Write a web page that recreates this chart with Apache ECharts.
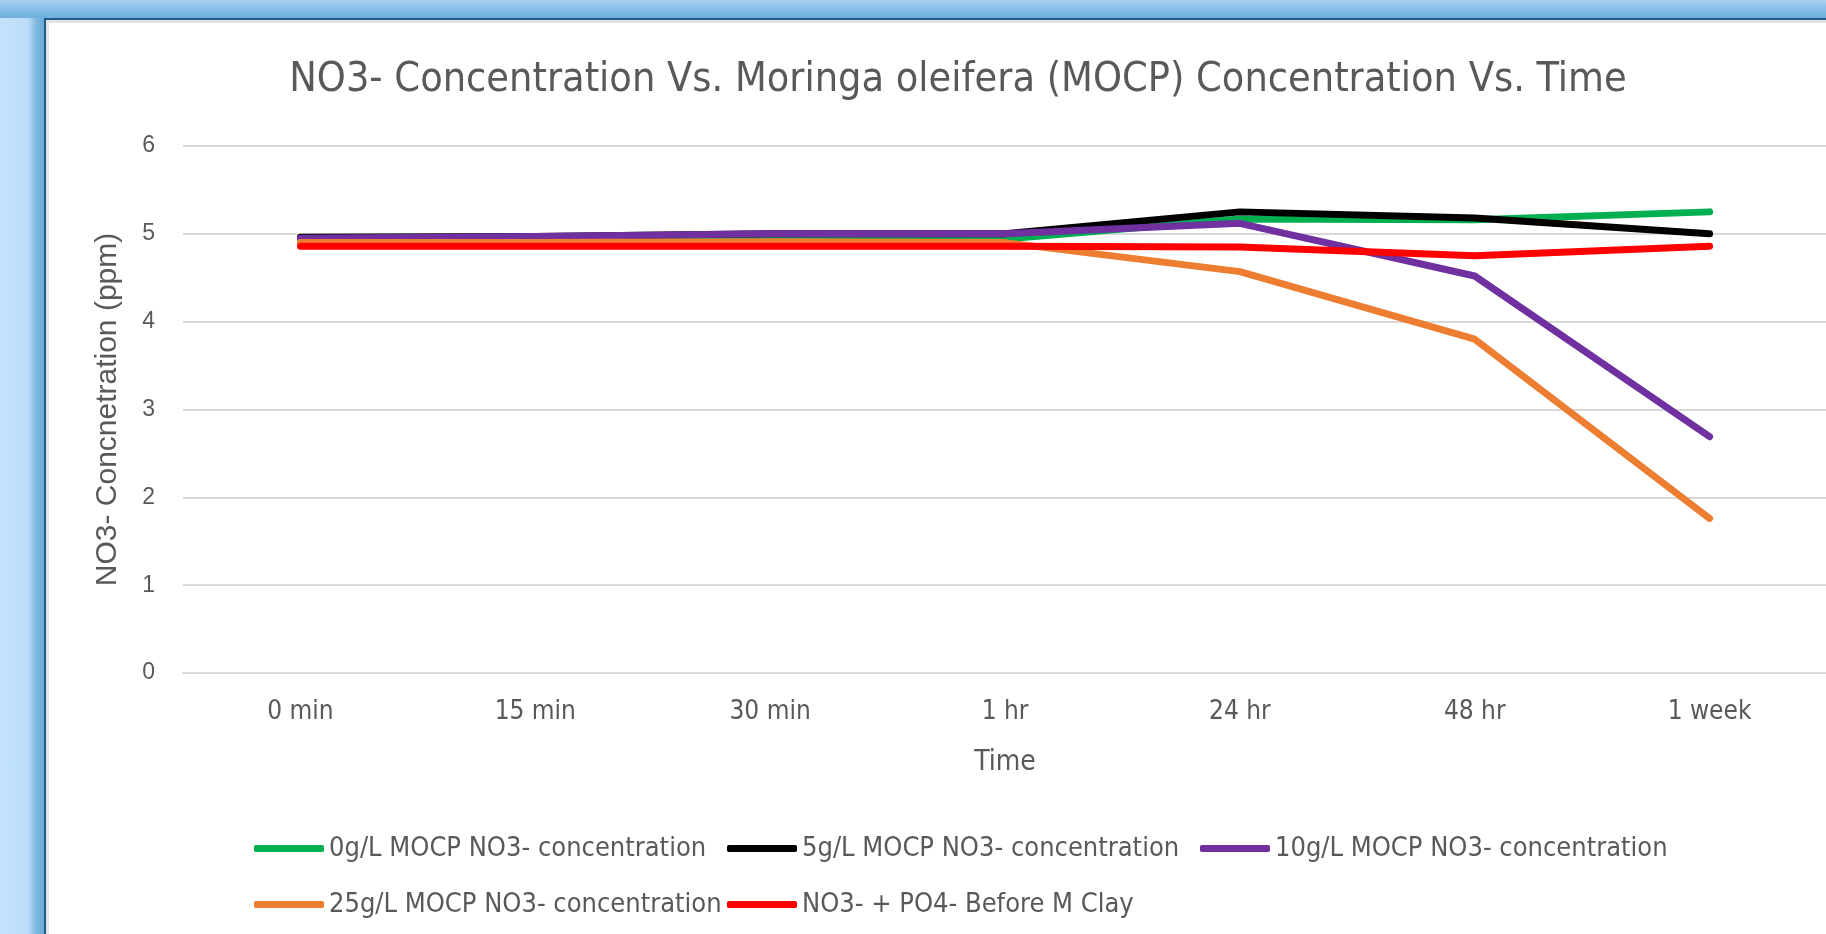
<!DOCTYPE html>
<html>
<head>
<meta charset="utf-8">
<script src="https://cdn.jsdelivr.net/npm/echarts@6/dist/echarts.min.js"></script>
<style>
  html, body { margin: 0; padding: 0; width: 1826px; height: 934px; overflow: hidden; }
  body { background: linear-gradient(90deg, #c4e2fb 0px, #bcdcf7 28px, #80b9e0 36px, #6aa9d8 44px); position: relative; }
  #topband { position: absolute; left: 0; top: 0; width: 1826px; height: 18px;
    background: linear-gradient(180deg, #a9d2f3 0px, #8cc1e8 8px, #6eaedc 18px); }
  #chart { position: absolute; left: 44px; top: 18px; width: 1782px; height: 916px; background: #fff;
    border-left: 2px solid #1d5d88; border-top: 2px solid #1d5d88; box-shadow: inset 3px 3px 0 #e2e2e2; }
</style>
</head>
<body>
<div id="topband"></div>
<div id="chart"></div>
<script>
var categories = ['0 min', '15 min', '30 min', '1 hr', '24 hr', '48 hr', '1 week'];
var seriesNames = [
  '0g/L MOCP NO3- concentration',
  '5g/L MOCP NO3- concentration',
  '10g/L MOCP NO3- concentration',
  '25g/L MOCP NO3- concentration',
  'NO3- + PO4- Before M Clay'
];
var mocp0 = [4.93, 4.94, 4.96, 4.94, 5.17, 5.16, 5.25];
var mocp5 = [4.96, 4.97, 5.00, 5.00, 5.25, 5.18, 5.00];
var mocp10 = [4.95, 4.97, 5.00, 5.00, 5.12, 4.52, 2.69];
var mocp25 = [4.90, 4.90, 4.91, 4.90, 4.57, 3.80, 1.76];
var beforeClay = [4.86, 4.86, 4.86, 4.86, 4.85, 4.75, 4.86];
var yTicks = [0, 1, 2, 3, 4, 5, 6];

var colors = ['#00B050', '#000000', '#7030A0', '#ED7D31', '#FF0000'];
var seriesData = [mocp0, mocp5, mocp10, mocp25, beforeClay];

var narrow = "'Liberation Sans Narrow', 'DejaVu Sans Condensed', Roboto, sans-serif";
var regular = "'Liberation Sans', Arial, sans-serif";

// legend grid, like excel: 3 columns, 2 rows
var legendCols = [203, 676, 1149];
var legendRows = [810, 866];

var legends = [];
var series = [];
for (var i = 0; i < seriesNames.length; i++) {
  legends.push({
    data: [seriesNames[i]],
    left: legendCols[i % 3],
    top: legendRows[Math.floor(i / 3)],
    icon: 'roundRect',
    itemWidth: 70,
    itemHeight: 7,
    textStyle: { fontFamily: narrow, fontSize: 27, color: '#595959' },
    selectedMode: false
  });
  series.push({
    name: seriesNames[i],
    type: 'line',
    data: seriesData[i],
    symbol: 'none',
    lineStyle: { width: 7, color: colors[i], cap: 'round', join: 'round' },
    itemStyle: { color: colors[i] },
    animation: false
  });
}

var eChart = echarts.init(document.getElementById('chart'));
eChart.setOption({
  animation: false,
  title: {
    text: 'NO3- Concentration Vs. Moringa oleifera (MOCP) Concentration Vs. Time',
    left: 907,
    textAlign: 'center',
    top: 35,
    textStyle: { fontFamily: narrow, fontSize: 41, fontWeight: 'normal', color: '#595959' }
  },
  legend: legends,
  grid: { left: 137, right: 1, top: 126, bottom: 263 },
  xAxis: {
    type: 'category',
    data: categories,
    boundaryGap: true,
    name: 'Time',
    nameLocation: 'middle',
    nameGap: 76,
    nameTextStyle: { fontFamily: narrow, fontSize: 28, color: '#595959' },
    axisLine: { lineStyle: { color: '#d9d9d9', width: 2 } },
    axisTick: { show: false },
    axisLabel: { fontFamily: narrow, fontSize: 26, color: '#595959', margin: 26 }
  },
  yAxis: {
    type: 'value',
    min: yTicks[0],
    max: yTicks[yTicks.length - 1],
    interval: 1,
    name: 'NO3- Concnetration (ppm)',
    nameLocation: 'middle',
    nameGap: 60,
    nameTextStyle: { fontFamily: regular, fontSize: 30, color: '#595959' },
    axisLine: { show: false },
    axisTick: { show: false },
    splitLine: { lineStyle: { color: '#d9d9d9', width: 2 } },
    axisLabel: { fontFamily: regular, fontSize: 23, color: '#595959', margin: 28 }
  },
  series: series
});
</script>
</body>
</html>
